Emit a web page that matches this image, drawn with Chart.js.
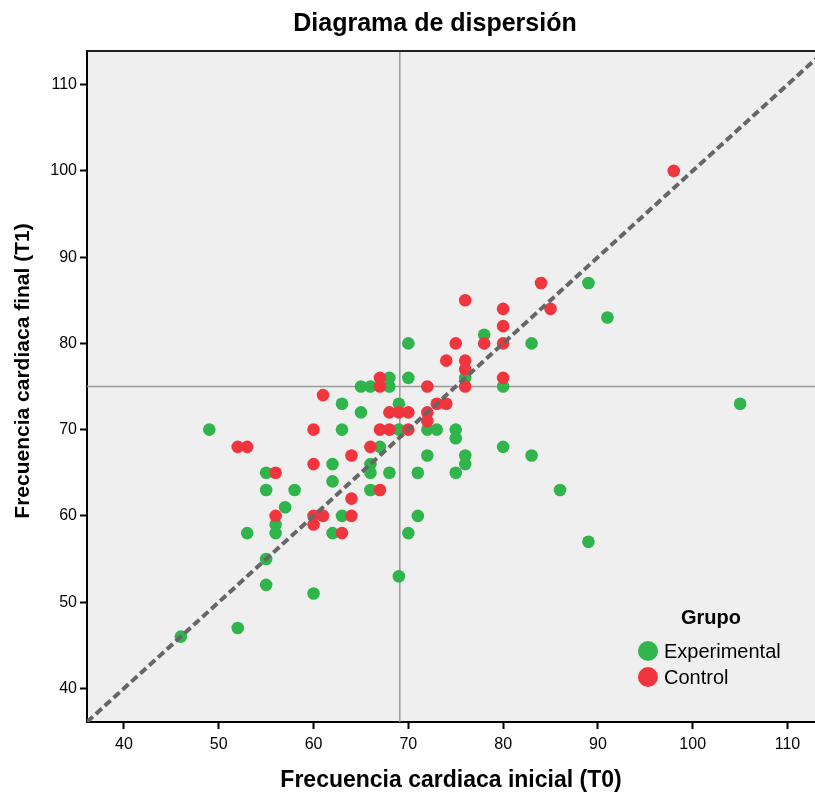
<!DOCTYPE html>
<html>
<head>
<meta charset="utf-8">
<script src="https://cdn.jsdelivr.net/npm/chart.js@4.4.0/dist/chart.umd.min.js"></script>
<style>
  html, body { margin: 0; padding: 0; background: #fff; }
</style>
</head>
<body>
<canvas id="myChart" width="815" height="794"></canvas>
<script>
// datos
const chartTitle = 'Diagrama de dispersión';
const xTitle = 'Frecuencia cardiaca inicial (T0)';
const yTitle = 'Frecuencia cardiaca final (T1)';
const legendTitle = 'Grupo';
const groupNames = ['Experimental', 'Control'];

const xTicks = [40, 50, 60, 70, 80, 90, 100, 110];
const yTicks = [40, 50, 60, 70, 80, 90, 100, 110];
const xRange = [36.1, 112.9];
const yRange = [36.1, 113.9];
const refX = 69.1;
const refY = 75;

const expX = [46, 52, 49, 53, 55, 55, 55, 55, 56, 56, 57, 58, 60, 62, 62, 62, 63, 63, 63, 65, 65, 66, 66, 66, 66, 67, 68, 68, 68, 69, 69, 69, 70, 70, 70, 71, 71, 72, 72, 73, 75, 75, 75, 76, 76, 76, 78, 80, 80, 83, 83, 86, 89, 89, 91, 105];
const expY = [46, 47, 70, 58, 65, 63, 55, 52, 59, 58, 61, 63, 51, 66, 64, 58, 73, 70, 60, 75, 72, 75, 66, 65, 63, 68, 76, 75, 65, 73, 70, 53, 80, 76, 58, 65, 60, 70, 67, 70, 70, 69, 65, 76, 67, 66, 81, 75, 68, 80, 67, 63, 87, 57, 83, 73];

const ctrlX = [52, 53, 56, 56, 60, 60, 60, 60, 61, 61, 63, 64, 64, 64, 66, 67, 67, 67, 67, 68, 68, 69, 70, 70, 72, 72, 72, 73, 74, 74, 75, 76, 76, 76, 76, 78, 80, 80, 80, 80, 84, 85, 98];
const ctrlY = [68, 68, 65, 60, 70, 66, 60, 59, 74, 60, 58, 67, 62, 60, 68, 76, 75, 70, 63, 72, 70, 72, 72, 70, 75, 72, 71, 73, 78, 73, 80, 85, 78, 77, 75, 80, 84, 82, 80, 76, 87, 84, 100];

const colors = ['#2fb54b', '#f0353f'];
const fontFamily = '"Liberation Sans", Arial, sans-serif';

let toPoints = (xs, ys) => xs.map((x, i) => ({ x: x, y: ys[i] }));

// fondo gris, borde superior, titulos y leyenda
const plotBox = {
    id: 'plotBox',
    beforeDraw: (chart) => {
        const { ctx, chartArea: a } = chart;
        ctx.save();
        ctx.fillStyle = '#efefef';
        ctx.fillRect(a.left, a.top, a.right - a.left, a.bottom - a.top);
        ctx.restore();
    },
    afterDraw: (chart) => {
        const { ctx, chartArea: a } = chart;
        ctx.save();
        ctx.strokeStyle = '#222';
        ctx.lineWidth = 2;
        ctx.beginPath();
        ctx.moveTo(a.left, a.top);
        ctx.lineTo(a.right, a.top);
        ctx.stroke();

        ctx.fillStyle = '#000';
        ctx.textAlign = 'center';
        ctx.textBaseline = 'middle';
        ctx.font = 'bold 25px ' + fontFamily;
        ctx.fillText(chartTitle, 435, 24);

        // titulo eje y
        ctx.save();
        ctx.translate(23, 371);
        ctx.rotate(-Math.PI / 2);
        ctx.font = 'bold 21px ' + fontFamily;
        ctx.fillText(yTitle, 0, 0);
        ctx.restore();

        // leyenda
        const lx = a.right - 167, ly = a.bottom - 104;
        ctx.font = 'bold 20px ' + fontFamily;
        ctx.fillText(legendTitle, lx + 63, ly);
        ctx.textAlign = 'left';
        ctx.font = '20px ' + fontFamily;
        groupNames.forEach((name, i) => {
            const cy = ly + 33 + i * 26;
            ctx.fillStyle = colors[i];
            ctx.beginPath();
            ctx.arc(lx, cy, 10, 0, Math.PI * 2);
            ctx.fill();
            ctx.fillStyle = '#000';
            ctx.fillText(name, lx + 16, cy + 1);
        });
        ctx.restore();
    }
};

let init = () => {
    const ctx = document.getElementById('myChart').getContext('2d');
    new Chart(ctx, {
        type: 'scatter',
        data: {
            datasets: [
                {
                    label: 'refY',
                    type: 'line',
                    data: [{ x: xRange[0], y: refY }, { x: xRange[1], y: refY }],
                    borderColor: '#9a9a9a',
                    borderWidth: 1.5,
                    pointRadius: 0,
                    order: 4
                },
                {
                    label: 'refX',
                    type: 'line',
                    data: [{ x: refX, y: yRange[0] }, { x: refX, y: yRange[1] }],
                    borderColor: '#9a9a9a',
                    borderWidth: 1.5,
                    pointRadius: 0,
                    order: 4
                },
                {
                    label: groupNames[0],
                    data: toPoints(expX, expY),
                    backgroundColor: colors[0],
                    borderWidth: 0,
                    pointRadius: 6.3,
                    order: 2
                },
                {
                    label: groupNames[1],
                    data: toPoints(ctrlX, ctrlY),
                    backgroundColor: colors[1],
                    borderWidth: 0,
                    pointRadius: 6.3,
                    order: 1
                },
                {
                    label: 'diagonal',
                    type: 'line',
                    data: [{ x: xRange[0], y: xRange[0] }, { x: yRange[1], y: yRange[1] }],
                    borderColor: '#666',
                    borderWidth: 4,
                    borderDash: [8, 4],
                    pointRadius: 0,
                    order: 0
                }
            ]
        },
        options: {
            responsive: false,
            animation: false,
            layout: { autoPadding: false, padding: { top: 51, right: 0, bottom: 0, left: 0 } },
            plugins: {
                legend: { display: false },
                tooltip: { enabled: false }
            },
            scales: {
                x: {
                    type: 'linear',
                    min: xRange[0],
                    max: xRange[1],
                    afterFit: (s) => { s.height = 72; s.paddingLeft = 0; s.paddingRight = 0; },
                    afterBuildTicks: (s) => { s.ticks = xTicks.map(v => ({ value: v })); },
                    grid: { drawOnChartArea: false, drawTicks: true, tickLength: 7, color: '#000', tickWidth: 2 },
                    border: { display: true, color: '#000', width: 2 },
                    ticks: { color: '#000', padding: 6, maxRotation: 0, font: { size: 16, family: fontFamily } },
                    title: { display: true, text: xTitle, color: '#000', padding: { top: 0, bottom: 0 }, font: { size: 23, weight: 'bold', family: fontFamily } }
                },
                y: {
                    type: 'linear',
                    min: yRange[0],
                    max: yRange[1],
                    afterFit: (s) => { s.width = 87; s.paddingTop = 0; s.paddingBottom = 0; },
                    afterBuildTicks: (s) => { s.ticks = yTicks.map(v => ({ value: v })); },
                    grid: { drawOnChartArea: false, drawTicks: true, tickLength: 7, color: '#000', tickWidth: 2 },
                    border: { display: true, color: '#000', width: 2 },
                    ticks: { color: '#000', padding: 3, font: { size: 16, family: fontFamily } }
                }
            }
        },
        plugins: [plotBox]
    });
}

init();
</script>
</body>
</html>
